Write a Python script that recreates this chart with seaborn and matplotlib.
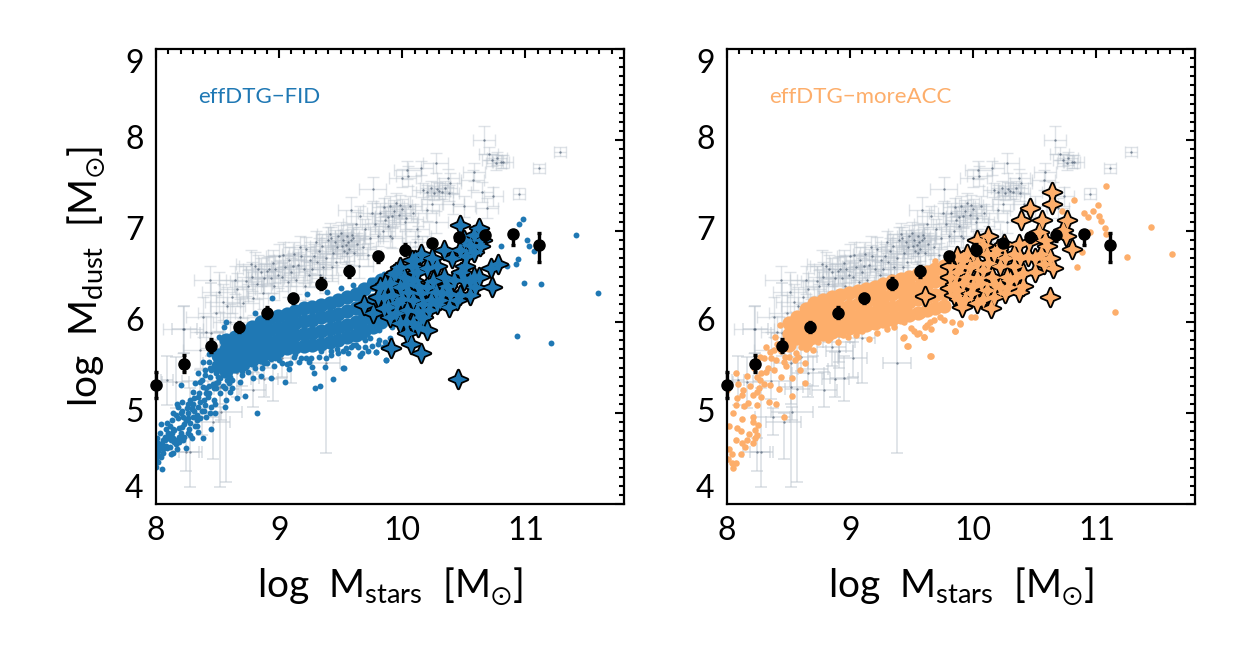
import matplotlib
matplotlib.use("Agg")
import matplotlib.pyplot as plt
import seaborn as sns
from matplotlib.path import Path
from matplotlib.ticker import MultipleLocator

# --- observed galaxies (shared by both panels)
gal_x = [11.28,11.11,10.95,10.66,10.70,10.77,10.80,10.76,10.73,10.82,10.58,10.57,10.65,10.74,10.69,10.50,10.41,10.37,10.39,10.27,10.15,10.04,10.05,10.00,9.76,
 10.17,10.20,10.23,10.26,10.28,10.30,10.32,10.35,10.38,10.24,9.82,9.85,9.88,9.90,9.93,9.95,9.97,10.00,10.03,10.06,10.09,9.86,9.92,9.98,10.02,
 10.20,10.27,10.12,9.90,9.58,9.62,9.50,9.52,9.54,9.55,9.57,9.58,9.60,9.61,9.63,9.53,9.56,9.59,9.51,9.55,
 9.42,9.45,9.47,9.48,9.44,9.40,9.38,9.35,9.32,9.30,9.28,9.46,9.36,9.41,9.33,9.25,9.22,9.20,9.18,9.15,9.12,9.10,9.08,9.05,9.02,9.00,8.97,8.95,8.93,8.90,
 9.27,9.17,9.07,8.99,9.31,9.21,9.11,9.03,8.96,9.37,9.43,9.14,9.24,8.92,8.88,8.85,8.82,8.80,8.78,8.75,8.87,8.83,8.79,8.73,8.77,
 9.70,9.74,9.78,9.80,9.84,9.68,9.72,9.65,9.88,9.92,10.13,10.10,9.66,9.75,10.16,
 8.71,8.66,8.62,8.68,8.58,8.64,8.54,8.60,8.51,8.44,8.22,8.41,8.36,8.49,8.38]
gal_y = [7.87,7.69,7.41,8.00,7.85,7.80,7.76,7.75,7.78,7.76,7.65,7.56,7.43,7.38,7.25,7.27,7.30,7.58,7.53,7.75,7.69,7.67,7.60,7.58,7.46,
 7.45,7.43,7.47,7.42,7.46,7.44,7.43,7.47,7.42,7.30,7.20,7.26,7.15,7.28,7.22,7.31,7.18,7.24,7.14,7.27,7.20,7.12,7.16,7.29,7.10,
 7.23,7.10,7.02,6.95,7.23,7.08,6.98,6.90,6.85,6.95,6.80,6.90,6.92,6.76,6.86,6.78,6.88,6.96,6.84,6.76,
 6.92,6.88,6.82,6.95,6.76,6.90,6.70,6.84,6.78,6.88,6.72,6.66,6.60,6.97,6.52,6.68,6.80,6.58,6.72,6.63,6.75,6.55,6.68,6.60,6.50,6.72,6.58,6.65,6.48,6.56,
 6.58,6.82,6.44,6.52,6.66,6.40,6.62,6.74,6.40,6.48,6.60,6.46,6.52,6.58,6.48,6.55,6.42,6.62,6.50,6.40,6.32,6.58,6.26,6.45,6.64,
 7.02,6.92,7.08,6.95,7.00,6.82,6.74,6.62,7.05,6.92,6.95,6.88,7.16,7.20,6.82,
 6.21,6.36,6.28,6.05,6.18,6.46,6.22,6.00,6.33,6.46,5.92,5.89,5.69,6.10,6.05]
gal_xerr = [.05,.05,.05,.09,.08,.08,.07,.08,.08,.08,.09,.09,.09,.08,.09,.09,.09,.09,.09,.10,.10,.11,.10,.11,.11,
 .09,.09,.09,.09,.08,.09,.09,.09,.08,.09,.11,.10,.10,.11,.09,.10,.10,.10,.10,.10,.10,.09,.10,.10,.10,
 .10,.10,.10,.10,.10,.10,.10,.10,.11,.10,.10,.11,.10,.10,.11,.10,.10,.10,.10,.11,
 .10,.11,.10,.10,.11,.10,.11,.10,.11,.10,.10,.11,.11,.10,.10,.12,.11,.12,.11,.12,.10,.11,.12,.11,.12,.11,.12,.11,.11,.12,
 .11,.12,.12,.11,.11,.12,.11,.12,.11,.11,.11,.11,.12,.12,.13,.12,.12,.13,.12,.12,.13,.12,.12,.13,.12,
 .11,.10,.11,.11,.10,.11,.11,.11,.10,.10,.10,.10,.12,.11,.10,
 .13,.14,.13,.14,.14,.13,.14,.14,.14,.13,.16,.13,.14,.15,.14]
gal_yerr = [.05,.05,.06,.15,.07,.07,.07,.08,.07,.07,.10,.11,.11,.10,.11,.12,.11,.10,.11,.11,.08,.10,.11,.10,.13,
 .08,.08,.08,.08,.08,.09,.08,.08,.09,.10,.11,.10,.11,.10,.12,.11,.10,.11,.12,.11,.10,.10,.12,.11,.10,
 .12,.12,.11,.13,.14,.13,.12,.11,.12,.12,.13,.12,.12,.13,.12,.12,.11,.12,.12,.12,
 .12,.13,.12,.12,.13,.14,.12,.13,.14,.12,.14,.14,.15,.12,.14,.14,.13,.15,.13,.14,.13,.15,.14,.14,.16,.14,.15,.14,.16,.15,
 .14,.13,.16,.15,.13,.16,.14,.14,.16,.16,.15,.15,.14,.15,.16,.15,.17,.15,.16,.17,.18,.16,.18,.16,.15,
 .11,.12,.11,.11,.11,.13,.13,.14,.11,.11,.11,.12,.12,.11,.12,
 .17,.18,.18,.20,.20,.15,.20,.20,.22,.16,.26,.18,.20,.20,.22]

faint_x = [8.23,8.24,8.28,8.52,8.57,9.38,9.10,8.88,8.95,8.85,8.91,8.91,8.66,8.16,8.46,8.53,8.37,8.36,8.09,8.52,8.60,8.70,8.45,8.79,9.02]
faint_y = [5.92,4.57,4.57,5.29,5.26,5.55,5.82,5.37,5.38,5.72,5.68,5.78,5.44,5.34,4.90,5.01,4.96,5.35,5.36,5.55,5.62,5.48,5.88,5.25,5.60]
faint_xerr = [.10,.11,.09,.10,.10,.11,.10,.11,.11,.12,.11,.13,.13,.11,.14,.17,.14,.15,.05,.14,.13,.12,.09,.10,.12]
faint_yup = [.26,.15,.70,.60,.50,.60,.30,.30,.25,.18,.16,.20,.25,.28,.10,.06,.10,.12,.27,.25,.18,.15,.55,.20,.18]
faint_ydn = [.26,.21,.38,1.10,1.02,.99,.49,.19,.25,.20,.18,.22,.26,.28,.40,.09,.20,.20,.27,.45,.16,.18,.25,.18,.20]

# --- binned mean relation (black circles)
mean_x = [8.00,8.23,8.45,8.67,8.90,9.11,9.34,9.57,9.80,10.02,10.24,10.46,10.67,10.90,11.11]
mean_y = [5.31,5.54,5.74,5.95,6.10,6.26,6.42,6.56,6.72,6.79,6.87,6.93,6.96,6.97,6.85]
mean_up = [.14,.10,.07,.05,.06,.05,.06,.05,.05,.07,.03,.03,.04,.03,.13]
mean_dn = [.14,.09,.07,.06,.06,.05,.06,.06,.06,.05,.04,.05,.07,.12,.19]

# --- effDTG-FID simulated galaxies
fid_x = [8.20,8.34,8.38,8.40,8.32,8.37,8.30,8.38,8.34,8.41,8.21,8.17,8.18,8.14,8.28,8.34,8.40,8.45,8.26,8.22,8.30,8.36,8.41,8.48,8.09,8.15,8.21,8.28,8.34,8.45,8.38,8.29,8.22,8.10,8.03,8.14,8.07,8.02,8.11,8.24,8.14,8.06,8.02,8.02,8.05,8.00,
 8.82,8.72,8.66,8.57,8.56,8.48,8.52,8.60,8.59,8.68,8.79,8.85,8.93,9.05,9.29,9.33,9.44,9.28,9.08,9.09,9.24,9.37,9.52,9.66,9.79,9.87,9.27,8.93,8.82,8.74,8.52,8.45,8.49,8.44,8.49,8.43,8.43,8.45,8.51,8.55,8.57,
 8.80,8.94,9.23,9.39,9.60,9.74,9.85,9.50,
 10.98,10.95,10.80,11.01,11.03,11.07,10.94,10.92,10.85,10.99,11.13,11.41,11.59,10.93,11.21,9.53,9.87,9.79,9.67,9.66,9.54,9.60,9.70,9.75,9.86,9.74,9.81,9.60,9.67,9.81,9.74,9.78,
 8.04,8.06,8.09,8.12,8.16,8.19,8.24,8.27,8.31,8.33,8.36,8.42,8.47,8.50,8.13,8.20,8.25,8.30,8.39,8.43,8.00,8.01,8.04,8.08,8.12,8.17,8.19,8.26,8.33,
 8.55,8.62,8.65,8.70,8.76,8.88,8.97,9.02,9.13,9.18,9.34,9.42,9.47,9.58,9.62,9.70,9.92,9.95,9.98,10.02,10.05,10.10,
 8.62,8.70,8.75,8.80,8.86,8.90,8.96,9.00,9.06,9.12,9.16,9.22,9.26,9.32,9.38,9.42,9.48,9.52,9.56,9.64,9.72,9.80,9.84,9.90,
 8.00,8.01,8.03,8.05,8.07,8.08,8.10,8.11,8.13,8.15,8.16,8.18,8.19,8.21,8.23,8.25,8.26,8.28,8.29,8.31,8.32,8.35,8.37,8.39,8.41,8.43,8.44,8.46,8.47,8.49,8.50,8.52,8.54,8.56,8.58,8.60,8.62,
 8.02,8.04,8.06,8.09,8.12,8.14,8.17,8.20,8.23,8.26,8.29,8.33,8.36,8.40,8.44,8.48,8.52,8.55,8.58,8.61,8.64,8.67]
fid_y = [5.31,5.44,5.56,5.47,5.33,5.36,5.23,5.29,5.18,5.22,5.12,5.10,5.07,5.00,5.14,5.07,5.09,5.07,5.00,4.96,4.96,4.94,4.96,5.00,4.89,4.81,4.85,4.89,4.79,4.82,4.72,4.72,4.70,4.78,4.78,4.72,4.70,4.67,4.63,4.61,4.56,4.60,4.54,4.46,4.38,4.41,
 5.00,5.19,5.16,5.14,5.07,5.10,5.22,5.23,5.33,5.34,5.39,5.41,5.38,5.34,5.28,5.30,5.37,5.44,5.48,5.55,5.56,5.51,5.50,5.64,5.67,5.58,5.51,5.59,5.60,5.56,5.51,5.47,5.33,5.40,5.44,5.56,5.65,5.71,5.84,5.95,6.00,
 6.10,6.26,6.31,6.33,6.41,6.46,6.53,6.37,
 7.13,7.08,6.84,6.90,6.84,6.78,6.69,6.64,6.62,6.43,6.42,6.96,6.32,5.85,5.77,5.50,5.58,5.67,5.66,5.63,5.71,5.75,5.73,5.74,5.78,5.82,5.80,5.84,5.84,5.91,5.93,6.02,
 4.52,4.70,4.62,4.76,4.66,4.84,4.92,4.82,5.02,4.92,5.12,5.18,5.28,5.40,4.92,5.00,5.06,5.10,5.02,5.30,4.60,4.72,4.88,4.82,4.55,4.60,4.74,4.78,4.86,
 5.42,5.47,5.60,5.46,5.62,5.55,5.60,5.55,5.65,5.60,5.68,5.64,5.70,5.72,5.75,5.80,5.95,6.00,6.10,6.05,6.08,6.15,
 5.36,5.42,5.45,5.50,5.50,5.55,5.52,5.58,5.54,5.62,5.56,5.60,5.60,5.62,5.60,5.68,5.66,5.68,5.66,5.72,5.68,5.76,5.72,5.82,
 4.50,4.66,4.64,4.66,4.74,4.64,4.72,4.86,4.78,4.68,4.98,4.94,4.68,5.02,4.74,4.92,5.10,4.76,5.04,5.16,4.86,5.22,5.02,5.14,5.28,5.22,5.00,5.32,5.14,5.28,5.34,5.38,5.30,5.28,5.36,5.40,5.28,
 4.58,4.62,4.56,4.72,4.70,4.82,4.70,4.78,4.88,4.94,5.06,4.98,5.34,5.42,5.50,5.60,5.66,5.70,5.76,5.80,5.86,5.92]

fid_core_x = [8.50,8.50,8.57,8.57,8.57,8.57,8.64,8.64,8.64,8.64,8.71,8.71,8.71,8.71,8.78,8.78,8.78,8.78,8.85,8.85,8.85,8.85,8.92,8.92,8.92,8.92,8.99,8.99,8.99,8.99,9.06,9.06,9.06,9.06,9.13,9.13,9.13,9.13,9.20,9.20,9.20,9.20,9.27,9.27,9.27,9.27,9.34,9.34,9.34,9.34,9.41,9.41,9.41,9.41,9.48,9.48,9.48,9.48,9.55,9.55,9.55,9.55,9.62,9.62,9.62,9.62,9.69,9.69,9.69,9.69,9.76,9.76,9.76,9.76,9.83,9.83,9.83,9.83]
fid_core_y = [5.52,5.64,5.46,5.58,5.70,5.80,5.52,5.62,5.74,5.84,5.54,5.66,5.78,5.90,5.58,5.70,5.83,5.95,5.62,5.74,5.87,6.00,5.66,5.78,5.91,6.04,5.68,5.80,5.93,6.07,5.71,5.83,5.96,6.09,5.73,5.86,5.99,6.12,5.74,5.87,6.01,6.15,5.75,5.88,6.02,6.17,5.76,5.90,6.05,6.19,5.78,5.92,6.07,6.21,5.80,5.94,6.09,6.24,5.83,5.97,6.12,6.27,5.86,6.00,6.15,6.31,5.90,6.04,6.20,6.36,5.95,6.08,6.24,6.42,6.00,6.14,6.30,6.46]

fid_star_x = [10.45,9.91,10.15,10.07,9.69,9.76,10.47,10.62,10.58,10.63,10.58,10.47,10.34,10.15,10.08,10.28,10.78,10.72,10.73,10.59,10.51,10.58,10.50,10.34,10.39,10.38,10.20,10.15,9.98,10.04,9.90,9.85,9.93,9.98,10.09,10.20,9.82,10.23,10.09,9.96,10.08,9.90,10.01,10.15,10.31,10.44,10.20,10.42,10.04,9.88,10.09,10.17,
 9.86,9.92,9.95,10.00,10.03,10.05,10.12,10.13,10.17,10.25,10.27,10.36,10.48,10.55,10.62,10.52,10.50,10.55,10.65,10.03,9.95,10.12,10.22,10.32,10.13,10.28,10.40,10.24,10.10,9.98,10.55,10.47,9.85,9.80]
fid_star_y = [5.37,5.71,5.66,5.76,6.19,6.10,7.07,7.03,6.96,6.83,6.77,6.79,6.79,6.75,6.68,6.61,6.64,6.59,6.39,6.39,6.61,6.50,6.46,6.50,6.31,6.17,5.91,6.06,5.99,5.88,6.06,6.28,6.53,6.39,6.46,6.39,6.39,6.24,6.24,6.21,6.61,6.43,6.50,6.32,6.24,6.24,6.59,6.46,6.13,6.17,5.99,6.06,
 6.42,6.30,6.55,6.25,6.42,6.33,6.55,6.40,6.20,6.45,6.33,6.40,6.55,6.45,6.50,6.72,6.90,6.85,6.90,6.00,6.10,6.12,6.13,6.32,5.95,6.20,6.70,6.70,6.68,6.60,6.30,6.30,6.15,6.28]

# --- effDTG-moreACC simulated galaxies
acc_x = [8.07,8.16,8.24,8.13,8.12,8.21,8.24,8.28,8.08,8.07,8.17,8.24,8.34,8.40,8.12,8.21,8.21,8.25,8.08,8.11,8.02,8.07,8.23,8.18,8.24,8.23,8.16,8.12,8.21,8.15,8.02,8.11,8.04,8.01,8.07,8.04,8.05,8.46,8.53,8.63,8.27,8.35,8.32,8.38,8.44,8.53,8.59,8.27,8.35,8.40,8.46,8.50,8.55,8.63,8.70,8.74,8.32,8.38,8.43,8.39,8.48,8.76,9.05,9.15,9.46,9.65,9.43,9.54,9.60,9.68,9.62,9.85,9.69,9.89,9.98,
 9.66,9.47,9.44,9.60,9.56,9.49,9.66,9.61,9.85,9.83,9.89,9.73,9.65,9.69,9.76,10.01,
 11.08,10.82,11.01,10.97,10.90,10.93,11.02,11.04,10.72,11.07,11.08,10.95,11.44,11.61,11.25,10.88,10.84,11.15,9.69,
 8.00,8.05,8.09,8.14,8.19,8.22,8.26,8.30,8.33,8.28,8.30,8.42,8.48,8.58,8.66,8.82,8.90,8.98,9.10,9.22,9.30,9.36,9.52,9.76,
 8.36,8.41,8.44,8.47,8.52,8.56,8.60,8.64,8.68,8.72,8.78,8.84,8.88,8.94,9.00,9.06,9.12,9.18,9.24,9.30,9.38,9.44,9.50,9.58,9.66,9.72]
acc_y = [5.44,5.41,5.40,5.25,5.20,5.20,5.23,5.18,5.16,5.09,5.11,5.09,5.12,5.10,4.93,4.96,4.90,4.87,4.84,4.80,4.86,4.70,4.81,4.77,4.76,4.73,4.70,4.67,4.67,4.63,4.60,4.55,4.55,4.50,4.45,4.45,4.40,4.96,5.19,5.33,5.36,5.31,5.45,5.47,5.40,5.38,5.47,5.62,5.67,5.58,5.56,5.62,5.58,5.55,5.69,5.78,5.73,5.69,5.97,5.84,5.82,5.87,5.86,5.81,5.74,5.63,5.82,5.87,5.84,6.02,5.97,5.90,6.13,5.98,6.06,
 5.63,5.74,5.83,5.84,5.88,5.93,5.92,5.95,5.90,6.00,5.99,6.06,6.00,6.13,6.14,6.05,
 7.49,7.34,7.29,7.22,7.20,7.15,7.16,7.11,7.22,7.03,6.97,6.99,7.04,6.75,6.71,6.77,6.60,6.11,6.67,
 5.25,5.00,5.32,5.08,5.30,5.50,5.28,5.32,5.50,5.44,5.60,5.26,5.52,5.62,5.72,5.80,5.78,5.84,5.90,5.88,5.92,5.95,5.90,6.02,
 5.60,5.76,5.68,5.62,5.72,5.66,5.72,5.70,5.78,5.80,5.84,5.82,5.88,5.86,5.90,5.92,5.94,5.96,5.98,5.98,6.02,6.00,6.05,6.08,6.12,6.14]

acc_core_x = [8.50,8.50,8.50,8.57,8.57,8.57,8.64,8.64,8.64,8.64,8.71,8.71,8.71,8.71,8.78,8.78,8.78,8.78,8.85,8.85,8.85,8.85,8.92,8.92,8.92,8.92,8.99,8.99,8.99,8.99,9.06,9.06,9.06,9.06,9.13,9.13,9.13,9.13,9.20,9.20,9.20,9.20,9.27,9.27,9.27,9.27,9.34,9.34,9.34,9.34,9.41,9.41,9.41,9.41,9.48,9.48,9.48,9.48,9.55,9.55,9.55,9.55,9.62,9.62,9.62,9.62,9.69,9.69,9.69,9.69,9.76,9.76,9.76,9.76,9.76]
acc_core_y = [5.75,5.87,5.99,5.82,5.94,6.06,5.78,5.90,6.02,6.14,5.84,5.96,6.08,6.21,5.87,5.99,6.12,6.24,5.89,6.01,6.14,6.27,5.91,6.03,6.16,6.30,5.93,6.05,6.18,6.32,5.95,6.07,6.20,6.34,5.97,6.09,6.22,6.36,5.99,6.11,6.25,6.39,6.01,6.14,6.28,6.42,6.03,6.17,6.31,6.45,6.05,6.19,6.33,6.47,6.08,6.22,6.36,6.50,6.10,6.25,6.39,6.53,6.13,6.28,6.42,6.55,6.15,6.30,6.45,6.58,6.18,6.32,6.46,6.58,6.62]

acc_star_x = [10.64,10.64,10.46,10.39,10.56,10.76,10.53,10.73,10.75,10.80,10.60,10.55,10.65,10.57,10.62,10.37,10.26,10.14,10.03,9.91,9.84,9.61,10.40,10.03,10.12,10.37,10.25,9.87,9.81,9.81,9.92,10.00,10.17,10.33,10.44,9.95,10.08,10.22,10.33,9.87,9.98,10.11,10.22,10.06,9.92,10.30,10.11,9.81,
 9.87,9.90,9.97,10.03,10.03,10.00,10.15,10.18,10.12,10.26,10.27,10.35,10.38,10.40,10.28,9.93,10.08,10.17,10.50,10.58,10.62,10.50,10.45,10.08,10.20,9.85,9.95,9.88]
acc_star_y = [7.43,7.30,7.25,7.12,7.12,7.12,6.99,7.01,6.94,6.80,6.83,6.75,6.59,6.64,6.28,6.33,6.32,6.15,6.21,6.17,6.30,6.29,6.54,6.90,6.94,6.86,6.86,6.72,6.50,6.61,6.68,6.75,6.75,6.75,6.72,6.50,6.57,6.61,6.61,6.35,6.32,6.35,6.39,6.43,6.43,6.46,6.75,6.37,
 6.55,6.62,6.60,6.65,6.48,6.40,6.50,6.42,6.65,6.70,6.50,6.50,6.70,6.40,6.38,6.25,6.25,6.28,6.70,6.90,6.70,6.55,6.88,6.85,6.80,6.42,6.75,6.25]

sns.set_style("white")
plt.rcParams["font.family"] = ["Lato", "DejaVu Sans"]
plt.rcParams["mathtext.fontset"] = "custom"
plt.rcParams["mathtext.rm"] = "Lato"
plt.rcParams["mathtext.fallback"] = "stixsans"
W, H = 1246, 660
fig = plt.figure(figsize=(W / 100, H / 100), dpi=100)
STAR = Path.unit_regular_star(4, innerCircle=0.42)


def panel(rect, pts_x, pts_y, core_x, core_y, star_x, star_y, color, name, dot, ylabel):
    l, t, r, b = rect
    ax = fig.add_axes([l / W, 1 - b / H, (r - l) / W, (b - t) / H])
    grey_line, grey_dot = "#b9c2cc", "#31445c"
    ax.errorbar(gal_x, gal_y, xerr=gal_xerr, yerr=gal_yerr, fmt="none", ecolor=grey_line,
                elinewidth=1.0, capsize=4.5, capthick=1.0, alpha=0.45, zorder=1)
    ax.errorbar(faint_x, faint_y, xerr=faint_xerr, yerr=[faint_ydn, faint_yup], fmt="none",
                ecolor=grey_line, elinewidth=1.1, capsize=4.5, capthick=1.1, alpha=0.55, zorder=1)
    sns.scatterplot(x=gal_x + faint_x, y=gal_y + faint_y, ax=ax, color=grey_dot, s=3,
                    linewidth=0, alpha=0.55, zorder=1.5)
    sns.scatterplot(x=core_x, y=core_y, ax=ax, color=color, s=105, linewidth=0, zorder=2)
    sns.scatterplot(x=pts_x, y=pts_y, ax=ax, color=color, s=dot, linewidth=0, zorder=2)
    sns.scatterplot(x=star_x, y=star_y, ax=ax, color="black", marker=STAR, s=165,
                    edgecolor="black", linewidth=2.6, zorder=3)
    sns.scatterplot(x=star_x, y=star_y, ax=ax, color=color, marker=STAR, s=165,
                    linewidth=0, zorder=3.1)
    ax.errorbar(mean_x, mean_y, yerr=[mean_dn, mean_up], fmt="o", color="black", ms=8,
                elinewidth=2.4, capsize=1.6, capthick=2.4, zorder=4, clip_on=False)
    ax.set_xlim(8, 11.8)
    ax.set_ylim(4, 9)
    ax.set_xticks([8, 9, 10, 11])
    ax.set_yticks([4, 5, 6, 7, 8, 9])
    ax.xaxis.set_minor_locator(MultipleLocator(0.1))
    ax.yaxis.set_minor_locator(MultipleLocator(0.1))
    ax.tick_params(which="major", direction="in", length=6.5, width=1.5, top=True, right=True,
                   labelsize=23, pad=9, color="black", labelcolor="black")
    ax.tick_params(which="minor", direction="in", length=3.5, width=1.5, top=True, right=True,
                   color="black")
    for lab in ax.get_yticklabels():
        if lab.get_text() == "9":
            lab.set_va("top")
        elif lab.get_text() == "4":
            lab.set_va("bottom")
        else:
            lab.set_va("center")
    for s in ax.spines.values():
        s.set_visible(True)
        s.set_color("black")
        s.set_linewidth(1.6)
    ax.text(0.09, 0.895, name, transform=ax.transAxes, color=color, fontsize=16, va="center")
    ax.set_xlabel("log  M$_{\\mathrm{stars}}$  [M$_{\\odot}$]", fontsize=28, color="black", labelpad=14)
    if ylabel:
        ax.set_ylabel("log  M$_{\\mathrm{dust}}$  [M$_{\\odot}$]", fontsize=28, color="black", labelpad=12)
    return ax


panel((156, 49, 624, 504), fid_x, fid_y, fid_core_x, fid_core_y, fid_star_x, fid_star_y,
      "#1f78b4", "effDTG\u2212FID", 18, True)
panel((727, 49, 1195, 504), acc_x, acc_y, acc_core_x, acc_core_y, acc_star_x, acc_star_y,
      "#fdae6b", "effDTG\u2212moreACC", 22, False)
fig.savefig("out.png", dpi=100, facecolor="white")
